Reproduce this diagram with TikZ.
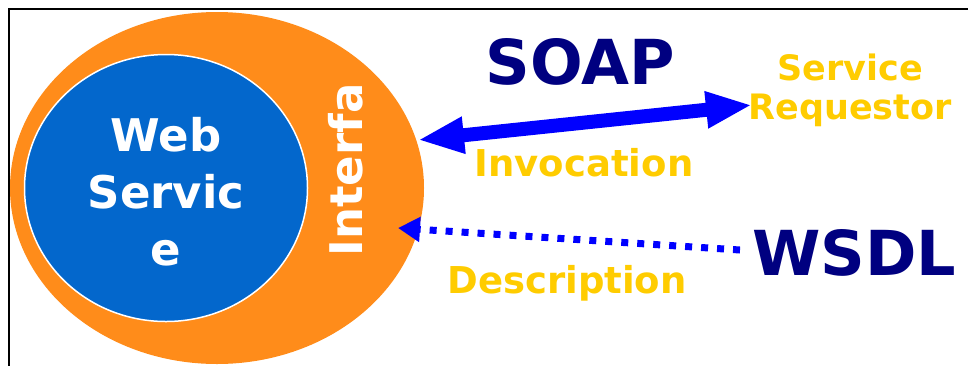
\documentclass[tikz,border=0pt]{standalone}
\usepackage{fontspec}
\setmainfont{DejaVu Sans}
\usetikzlibrary{shapes.geometric,arrows.meta}
\definecolor{ifaceorange}{RGB}{255,140,26}
\definecolor{svcblue}{RGB}{3,103,204}
\definecolor{navytext}{RGB}{0,0,128}
\definecolor{goldtext}{RGB}{255,204,0}
\definecolor{arrowblue}{RGB}{0,0,255}
\tikzset{
  big/.style={font=\bfseries\fontsize{62}{62}\selectfont, text=navytext, inner sep=0pt},
  gold/.style={font=\bfseries\fontsize{37}{39}\selectfont, text=goldtext, inner sep=0pt},
  inner/.style={font=\bfseries\fontsize{45}{57}\selectfont, text=white, inner sep=0pt},
  frameline/.style={line width=2pt, black},
}
\begin{document}
\begin{tikzpicture}[x=1pt,y=-1pt]
  \useasboundingbox (0,0) rectangle (968,365);
  % frame
  \draw[frameline] (968,9) -- (9,9) -- (9,366);
  % interface ring and the service inside it
  \node[ellipse, fill=ifaceorange, minimum width=414pt, minimum height=352pt, inner sep=0pt] (iface) at (217,188) {};
  \node[ellipse, fill=svcblue, draw=white, line width=1.5pt, minimum width=283pt, minimum height=267pt, inner sep=0pt] (svc) at (166,188) {};
  \node[inner, align=center] (svctext) at (166,192) {Web\\Servic\\e};
  \node[inner, rotate=90] (ifacetext) at (346,170) {Interfa};
  % labels
  \node[big] (soap) at (580,62) {SOAP};
  \node[big] (wsdl) at (854,253) {WSDL};
  \node[gold, font=\bfseries\fontsize{35}{39}\selectfont, align=center] (req) at (850,90) {Service\\Requestor};
  \node[gold] (invoc) at (584,163) {Invocation};
  \node[gold] (descr) at (567,283) {Description};
  % connector ends
  \coordinate (invL) at (418,140);
  \coordinate (invR) at (752,105);
  \coordinate (dscL) at (398,228);
  \coordinate (dscR) at (740,250);
  % invocation (two-way) and description (dotted) arrows
  \draw[arrowblue, line width=14pt, {Triangle[length=46pt,width=34pt]}-{Triangle[length=46pt,width=34pt]}] (invL) -- (invR);
  \draw[arrowblue, line width=7pt, dash pattern=on 7pt off 9pt, -{Triangle[length=22pt,width=24pt]}] (dscR) -- (dscL);
\end{tikzpicture}
\end{document}
